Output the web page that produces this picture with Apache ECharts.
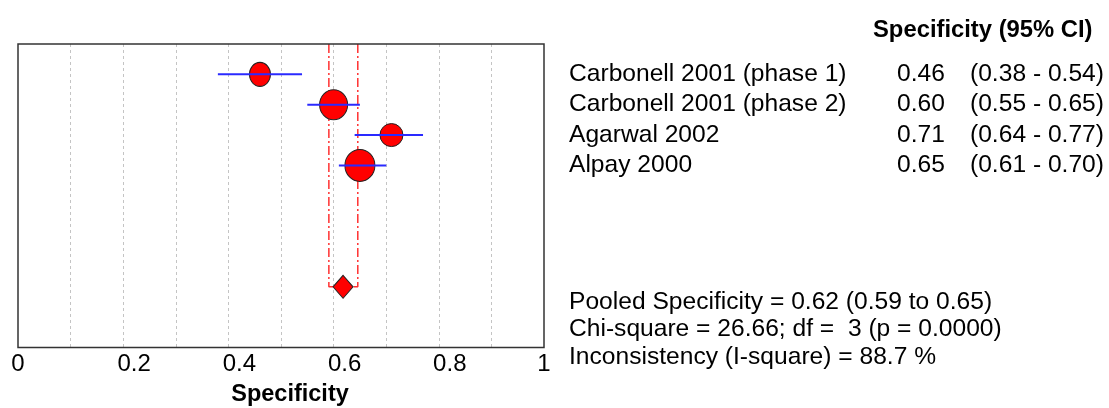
<!DOCTYPE html>
<html><head><meta charset="utf-8">
<script src="https://cdn.jsdelivr.net/npm/echarts@6/dist/echarts.min.js"></script>
<style>html,body{margin:0;padding:0;background:#fff}#c{width:1109px;height:408px}</style>
</head><body><div id="c"></div>
<script>
// ---- data ----
const studies = ['Carbonell 2001 (phase 1)', 'Carbonell 2001 (phase 2)', 'Agarwal 2002', 'Alpay 2000'];
const specificity = [0.46, 0.60, 0.71, 0.65];
const ciLower = [0.38, 0.55, 0.64, 0.61];
const ciUpper = [0.54, 0.65, 0.77, 0.70];
const studyRows = [1, 2, 3, 4];
const pooledValue = 0.618;
const pooledLower = 0.591;
const pooledUpper = 0.646;
const pooledRow = 8;
const chiSquare = '26.66';
const degreesFreedom = 3;
const pValue = '0.0000';
const iSquare = '88.7';
const xTickLabels = ['0', '0.2', '0.4', '0.6', '0.8', '1'];
const xAxisTitle = 'Specificity';
const tableHeader = 'Specificity (95% CI)';

// ---- style ----
const FONT = '"Liberation Sans", Arial, sans-serif';
const FS = 24;
const FS_TEXT = 24.6;
const markerSizes = [[21, 24], [28, 30], [23, 23], [30, 32]];

const chart = echarts.init(document.getElementById('c'), null, {renderer: 'canvas'});

const series = [];
series.push({
  type: 'scatter', z: 2, silent: true,
  data: specificity.map((v, i) => ({value: [v, studyRows[i]], symbolSize: markerSizes[i]})),
  symbol: 'circle',
  itemStyle: {color: '#ff0000', borderColor: '#222', borderWidth: 1, opacity: 1}
});
specificity.forEach((v, i) => {
  series.push({
    type: 'line', z: 3, silent: true, showSymbol: false, symbol: 'none',
    data: [[ciLower[i], studyRows[i]], [ciUpper[i], studyRows[i]]],
    lineStyle: {color: '#2a2aff', width: 2}
  });
});
[pooledLower, pooledUpper].forEach(x => {
  series.push({
    type: 'line', z: 1, silent: true, showSymbol: false, symbol: 'none',
    data: [[x, 0], [x, pooledRow], [pooledValue, pooledRow]],
    lineStyle: {color: '#ff3030', width: 1.5, type: [9, 3, 2, 3]}
  });
});
series.push({
  type: 'scatter', z: 4, silent: true, symbol: 'diamond', symbolSize: [20, 23],
  data: [[pooledValue, pooledRow]],
  itemStyle: {color: '#ff0000', borderColor: '#222', borderWidth: 1, opacity: 1}
});

chart.setOption({
  animation: false,
  backgroundColor: '#fff',
  grid: {left: 18, right: 565, top: 44, bottom: 60.5, show: true, borderColor: '#333', borderWidth: 1.5,
         backgroundColor: 'transparent', containLabel: false, outerBoundsMode: 'none', z: 5},
  xAxis: {
    type: 'value', min: 0, max: 1, interval: 0.1,
    axisLine: {show: false}, axisTick: {show: false},
    splitLine: {show: true, showMinLine: false, showMaxLine: false,
                lineStyle: {color: '#c4c4c4', width: 1, type: [3, 3]}},
    axisLabel: {
      margin: 5,
      formatter: function (v) {
        const k = Math.round(v * 10);
        if (k % 2) return '';
        const t = xTickLabels[k / 2];
        return (k === 0 || k === 10) ? '{e|' + t + '}' : '{m|' + t + '}';
      },
      rich: {
        e: {fontSize: FS, fontFamily: FONT, color: '#000'},
        m: {fontSize: FS, fontFamily: FONT, color: '#000', padding: [0, 0, 0, 22]}
      }
    }
  },
  yAxis: {
    type: 'value', min: 0, max: 10, inverse: true,
    axisLine: {show: false}, axisTick: {show: false}, axisLabel: {show: false}, splitLine: {show: false}
  },
  series: series
});

function txt(text, x, y, bold, size) {
  return {type: 'text', x: x, y: y, silent: true,
    style: {text: text, fill: '#000', fontSize: size || FS_TEXT, fontFamily: FONT,
            fontWeight: bold ? 'bold' : 'normal', align: 'left', verticalAlign: 'middle'}};
}
const g = [];
g.push(txt(tableHeader, 873, 30, true, 23.8));
studies.forEach((s, i) => {
  const y = chart.convertToPixel({yAxisIndex: 0}, studyRows[i]);
  g.push(txt(s, 569, y));
  g.push(txt(specificity[i].toFixed(2), 897, y));
  g.push(txt('(' + ciLower[i].toFixed(2) + ' - ' + ciUpper[i].toFixed(2) + ')', 970, y));
});
g.push(txt('Pooled Specificity = ' + pooledValue.toFixed(2) + ' (' + pooledLower.toFixed(2) + ' to ' + pooledUpper.toFixed(2) + ')', 569, 302));
g.push(txt('Chi-square = ' + chiSquare + '; df =  ' + degreesFreedom + ' (p = ' + pValue + ')', 569, 329.5));
g.push(txt('Inconsistency (I-square) = ' + iSquare + ' %', 569, 357));
g.push({type: 'text', x: 290, y: 395, silent: true,
  style: {text: xAxisTitle, fill: '#000', fontSize: 23.5, fontFamily: FONT, fontWeight: 'bold', align: 'center', verticalAlign: 'middle'}});
chart.setOption({graphic: g});
</script>
</body></html>
